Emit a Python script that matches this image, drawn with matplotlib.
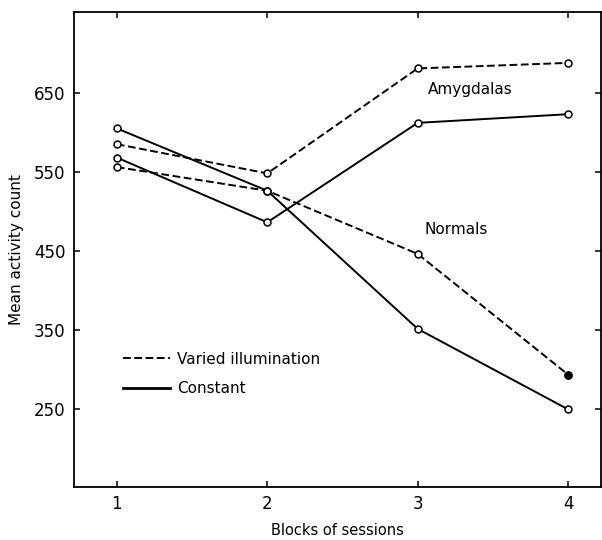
import matplotlib
matplotlib.use("Agg")
import matplotlib.pyplot as plt

# Data
blocks = [1, 2, 3, 4]
amyg_varied = [585, 548, 681, 688]
amyg_constant = [568, 486, 612, 623]
norm_varied = [556, 526, 446, 293]
norm_constant = [605, 526, 351, 249]
yticks = [250, 350, 450, 550, 650]
xticks = [1, 2, 3, 4]

plt.rcParams['font.family'] = ['DejaVu Sans']

fig = plt.figure(figsize=(6.02, 5.40), dpi=100)
ax = fig.add_axes([74 / 602, 53 / 540, (601 - 74) / 602, (487 - 12) / 540])

dash = (4, 1.8)
lw = 1.4
mk = dict(marker='o', markersize=5, markerfacecolor='white', markeredgecolor='black',
          markeredgewidth=1.1)

ax.plot(blocks, amyg_varied, color='black', lw=lw, linestyle=(0, dash), **mk)
ax.plot(blocks, amyg_constant, color='black', lw=lw, linestyle='-', **mk)
ax.plot(blocks, norm_varied, color='black', lw=lw, linestyle=(0, dash), **mk)
ax.plot(blocks, norm_constant, color='black', lw=lw, linestyle='-', **mk)
# filled final point on the Normals varied curve
ax.plot(blocks[-1:], norm_varied[-1:], linestyle='none', marker='o', markersize=5,
        color='black')

# legend handles
ax.plot([], [], color='black', lw=lw, linestyle=(0, dash), label='Varied illumination')
ax.plot([], [], color='black', lw=2.0, linestyle='-', label='Constant')
handles, labels = ax.get_legend_handles_labels()
ax.legend(handles, labels, loc='upper left', bbox_to_anchor=(0.093, 0.285),
          frameon=False, fontsize=11, handlelength=3.1, handletextpad=0.45,
          labelspacing=0.95, borderpad=0, borderaxespad=0)

ax.text(3.071, 654, 'Amygdalas', fontsize=11, va='center', ha='left')
ax.text(3.045, 477, 'Normals', fontsize=11, va='center', ha='left')

ax.set_xlim(0.715, 4.219)
ax.set_ylim(150.6, 752.5)
ax.set_xticks(xticks)
ax.set_yticks(yticks)
ax.set_xticklabels([str(v) for v in xticks], fontsize=12)
ax.set_yticklabels([str(v) for v in yticks], fontsize=12)
ax.tick_params(direction='in', length=4.5, width=1.1, top=True, right=True, pad=6)

for s in ax.spines.values():
    s.set_linewidth(1.3)

ax.set_xlabel('Blocks of sessions', fontsize=10.5, labelpad=7)
ax.set_ylabel('Mean activity count', fontsize=11, labelpad=7)

fig.savefig('out.png', dpi=100)
